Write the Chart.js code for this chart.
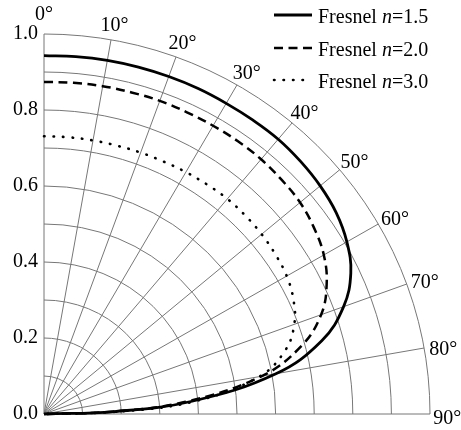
<!DOCTYPE html>
<html>
<head>
<meta charset="utf-8">
<script src="https://cdn.jsdelivr.net/npm/chart.js@4.4.0/dist/chart.umd.min.js"></script>
<style>
  html, body { margin: 0; padding: 0; background: #fff; }
  #wrap { width: 461px; height: 430px; }
</style>
</head>
<body>
<div id="wrap"><canvas id="polar"></canvas></div>
<script>
// incidence angle, degrees from the normal
const angles = [0, 5, 10, 15, 20, 25, 30, 35, 40, 45, 50, 55, 60, 65, 70, 75, 80, 85, 88, 90];

// transmitted fraction for each refractive index
const fresnel15 = [0.943, 0.944, 0.945, 0.945, 0.945, 0.945, 0.944, 0.944, 0.944, 0.940, 0.934, 0.924, 0.906, 0.877, 0.826, 0.745, 0.610, 0.385, 0.181, 0];
const fresnel20 = [0.874, 0.875, 0.876, 0.876, 0.877, 0.876, 0.876, 0.876, 0.875, 0.871, 0.866, 0.854, 0.837, 0.808, 0.764, 0.690, 0.572, 0.368, 0.177, 0];
const fresnel30 = [0.731, 0.731, 0.731, 0.731, 0.732, 0.733, 0.735, 0.737, 0.739, 0.738, 0.736, 0.732, 0.726, 0.713, 0.690, 0.647, 0.566, 0.396, 0.203, 0];

const indexLabels = ['1.5', '2.0', '3.0'];
const angleTicks = [0, 10, 20, 30, 40, 50, 60, 70, 80, 90];
const ringValues = [0.1, 0.2, 0.3, 0.4, 0.5, 0.6, 0.7, 0.8, 0.9, 1.0];

const FONT = '"Liberation Serif", "Times New Roman", serif';
const GRID = '#777';

function toXY(deg, r) {
  const a = deg * Math.PI / 180;
  return { x: r * Math.sin(a), y: r * Math.cos(a) };
}

function polarPoints(values) {
  return angles.map((a, i) => toXY(a, values[i]));
}

const lineStyles = [
  { dash: [], width: 2.8, cap: 'butt' },
  { dash: [9, 5.5], width: 2.5, cap: 'butt' },
  { dash: [0.5, 9], width: 2.6, cap: 'round' }
];

const polarGrid = {
  id: 'polarGrid',
  beforeDatasetsDraw(chart) {
    const { ctx, scales: { x, y } } = chart;
    const x0 = x.getPixelForValue(0);
    const y0 = y.getPixelForValue(0);
    ctx.save();
    ctx.strokeStyle = GRID;
    ctx.lineWidth = 1;

    // rings every 0.1
    ringValues.forEach(r => {
      const rx = x.getPixelForValue(r) - x0;
      const ry = y0 - y.getPixelForValue(r);
      ctx.beginPath();
      ctx.ellipse(x0, y0, rx, ry, 0, -Math.PI / 2, 0);
      ctx.stroke();
    });

    // spokes every 10 degrees
    angleTicks.forEach(d => {
      const p = toXY(d, 1);
      ctx.beginPath();
      ctx.moveTo(x0, y0);
      ctx.lineTo(x.getPixelForValue(p.x), y.getPixelForValue(p.y));
      ctx.stroke();
    });
    ctx.restore();
  },
  afterDraw(chart) {
    const { ctx, scales: { x, y } } = chart;
    ctx.save();
    ctx.fillStyle = '#000';
    ctx.font = '20px ' + FONT;
    ctx.textAlign = 'center';
    ctx.textBaseline = 'middle';
    angleTicks.forEach(d => {
      const p = toXY(d, 1.05);
      const shift = d === 0 ? 0 : 5;
      ctx.fillText(d + '°', x.getPixelForValue(p.x) - (d === 90 ? 2 : 0), y.getPixelForValue(p.y) + shift);
    });

    // legend, top right
    const lx = chart.width - 187;
    const rows = [15, 48, 80];
    ctx.textAlign = 'left';
    ctx.textBaseline = 'alphabetic';
    chart.data.datasets.forEach((ds, i) => {
      const st = lineStyles[i];
      const ry = rows[i];
      ctx.save();
      ctx.strokeStyle = '#000';
      ctx.lineWidth = st.width;
      ctx.lineCap = st.cap;
      ctx.setLineDash(st.dash);
      ctx.beginPath();
      ctx.moveTo(lx, ry);
      ctx.lineTo(lx + 38, ry);
      ctx.stroke();
      ctx.restore();

      let tx = lx + 44;
      const by = ry + 8;
      ctx.font = '20px ' + FONT;
      ctx.fillText('Fresnel ', tx, by);
      tx += ctx.measureText('Fresnel ').width;
      ctx.font = 'italic 20px ' + FONT;
      ctx.fillText('n', tx, by);
      tx += ctx.measureText('n').width;
      ctx.font = '20px ' + FONT;
      ctx.fillText('=' + indexLabels[i], tx, by);
    });
    ctx.restore();
  }
};

const seriesValues = [fresnel15, fresnel20, fresnel30];

new Chart(document.getElementById('polar'), {
  type: 'scatter',
  data: {
    datasets: seriesValues.map((vals, i) => ({
      label: 'Fresnel n=' + indexLabels[i],
      data: polarPoints(vals),
      showLine: true,
      borderColor: '#000',
      borderWidth: lineStyles[i].width,
      borderDash: lineStyles[i].dash,
      borderCapStyle: lineStyles[i].cap,
      pointRadius: 0,
      tension: 0.4,
      clip: false
    }))
  },
  options: {
    responsive: true,
    maintainAspectRatio: false,
    animation: false,
    layout: { padding: { top: 34, right: 31, bottom: 11, left: 0 } },
    plugins: {
      legend: { display: false },
      tooltip: { enabled: false }
    },
    scales: {
      x: {
        type: 'linear',
        min: 0,
        max: 1,
        display: false
      },
      y: {
        type: 'linear',
        min: 0,
        max: 1,
        afterFit(scale) { scale.width = 44; },
        grid: { display: false, drawTicks: false },
        border: { display: false },
        ticks: {
          stepSize: 0.2,
          padding: 6,
          color: '#000',
          font: { family: FONT, size: 20, lineHeight: 1 },
          callback: v => v.toFixed(1)
        }
      }
    }
  },
  plugins: [polarGrid]
});
</script>
</body>
</html>
